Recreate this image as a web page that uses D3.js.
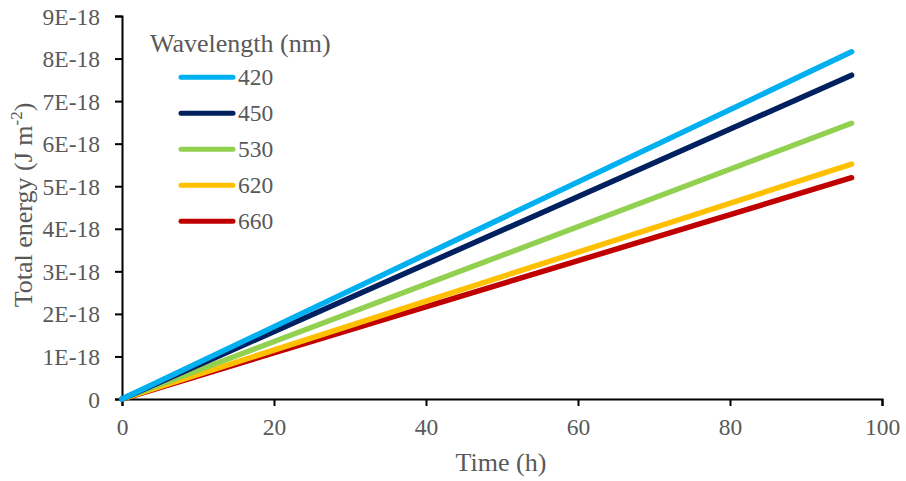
<!DOCTYPE html>
<html>
<head>
<meta charset="utf-8">
<script src="https://cdn.jsdelivr.net/npm/d3@7"></script>
<style>
  html, body { margin: 0; padding: 0; background: #fff; }
  svg { display: block; }
</style>
</head>
<body>
<svg id="chart" width="906" height="481"></svg>
<script>
// Exposure time (h)
const times = [0, 96];
// Wavelength groups (nm)
const wavelengths = ["420", "450", "530", "620", "660"];
// Cumulative energy (units of 1E-18 J m^-2) at each time
const energy420 = [0, 8.16];
const energy450 = [0, 7.61];
const energy530 = [0, 6.48];
const energy620 = [0, 5.52];
const energy660 = [0, 5.20];
const colors = ["#00b0f0", "#002060", "#92d050", "#ffc000", "#c00000"];
const xTicks = [0, 20, 40, 60, 80, 100];
const yTicks = [0, 1, 2, 3, 4, 5, 6, 7, 8, 9];
const yTickLabels = ["0", "1E-18", "2E-18", "3E-18", "4E-18", "5E-18", "6E-18", "7E-18", "8E-18", "9E-18"];

const FONT = "'Liberation Serif', 'Times New Roman', serif";
const TEXT_COLOR = "#595959";

const seriesValues = [energy420, energy450, energy530, energy620, energy660];
const series = wavelengths.map((w, i) => ({
  name: w,
  color: colors[i],
  points: times.map((t, j) => ({ t, v: seriesValues[i][j] }))
}));

const svg = d3.select("#chart");
const plotLeft = 122, plotRight = 882, plotTop = 16, plotBottom = 399;

const x = d3.scaleLinear().domain([0, 100]).range([plotLeft, plotRight]);
const y = d3.scaleLinear().domain([0, 9]).range([plotBottom, plotTop]);

// Axes
const xAxis = svg.append("g")
  .attr("transform", `translate(0,${plotBottom})`)
  .call(d3.axisBottom(x).tickValues(xTicks).tickSize(7).tickPadding(12).tickFormat(d3.format("d")));
const yAxis = svg.append("g")
  .attr("transform", `translate(${plotLeft},0)`)
  .call(d3.axisLeft(y).tickValues(yTicks).tickSize(7).tickPadding(15)
    .tickFormat((d, i) => yTickLabels[i]));

[xAxis, yAxis].forEach(a => {
  a.attr("font-family", FONT).attr("font-size", 23.5);
  a.select(".domain").attr("stroke", "#000").attr("stroke-width", 2);
  a.selectAll(".tick line").attr("stroke", "#000").attr("stroke-width", 2);
  a.selectAll(".tick text").attr("fill", TEXT_COLOR);
});
yAxis.selectAll(".tick text").attr("dy", "0.34em");

// Series lines
const line = d3.line().x(d => x(d.t)).y(d => y(d.v));
svg.append("g").selectAll("path")
  .data(series.slice().reverse())
  .join("path")
  .attr("d", d => line(d.points))
  .attr("fill", "none")
  .attr("stroke", d => d.color)
  .attr("stroke-width", 5.5)
  .attr("stroke-linecap", "round");

// Axis titles
svg.append("text")
  .attr("x", 501).attr("y", 471)
  .attr("text-anchor", "middle")
  .attr("font-family", FONT).attr("font-size", 26).attr("fill", TEXT_COLOR)
  .text("Time (h)");

const yTitle = svg.append("text")
  .attr("transform", "translate(32,205) rotate(-90)")
  .attr("text-anchor", "middle")
  .attr("font-family", FONT).attr("font-size", 26).attr("fill", TEXT_COLOR);
yTitle.append("tspan").text("Total energy (J m");
yTitle.append("tspan").attr("font-size", 17).attr("dy", -10).text("-2");
yTitle.append("tspan").attr("dy", 10).text(")");

// Legend
const legend = svg.append("g")
  .attr("font-family", FONT).attr("fill", TEXT_COLOR);
legend.append("text")
  .attr("x", 150).attr("y", 51.5).attr("font-size", 26)
  .text("Wavelength (nm)");
const items = legend.selectAll("g.item")
  .data(series)
  .join("g")
  .attr("class", "item")
  .attr("transform", (d, i) => `translate(0,${77.3 + i * 36})`);
items.append("line")
  .attr("x1", 181).attr("x2", 233)
  .attr("stroke", d => d.color)
  .attr("stroke-width", 5)
  .attr("stroke-linecap", "round");
items.append("text")
  .attr("x", 238).attr("y", 8).attr("font-size", 23.5)
  .text(d => d.name);
</script>
</body>
</html>
